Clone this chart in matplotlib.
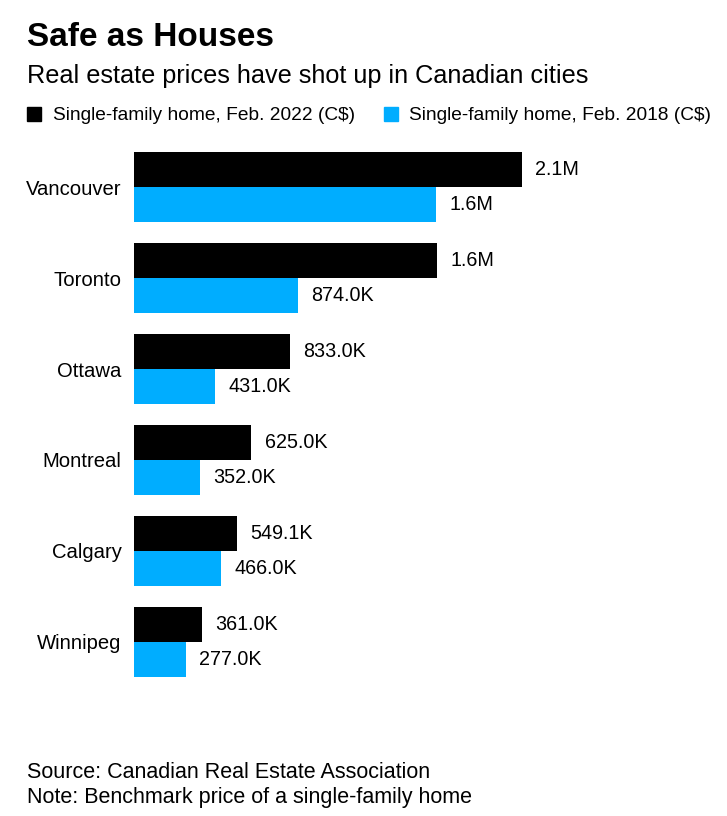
import matplotlib.pyplot as plt
from matplotlib.patches import Rectangle

cities = ['Vancouver', 'Toronto', 'Ottawa', 'Montreal', 'Calgary', 'Winnipeg']
price_2022 = [2068.0, 1615.0, 833.0, 625.0, 549.1, 361.0]  # thousands C$
price_2018 = [1610.0, 874.0, 431.0, 352.0, 466.0, 277.0]
label_2022 = ['2.1M', '1.6M', '833.0K', '625.0K', '549.1K', '361.0K']
label_2018 = ['1.6M', '874.0K', '431.0K', '352.0K', '466.0K', '277.0K']

BLACK = '#000000'
BLUE = '#00adff'
plt.rcParams['font.family'] = ['Liberation Sans', 'DejaVu Sans']

W, H = 727, 816
fig = plt.figure(figsize=(W / 100, H / 100), dpi=100)

h = 0.385
ax = fig.add_axes([134 / W, 1 - 677 / H, (622 - 134) / W, (677 - 152) / H])
ys = range(len(cities))
ax.barh([y - h / 2 for y in ys], price_2022, height=h, color=BLACK, linewidth=0)
ax.barh([y + h / 2 for y in ys], price_2018, height=h, color=BLUE, linewidth=0)
ax.set_xlim(0, 2600)
ax.set_ylim(len(cities) - 1 + h, -h)
for y, v, t in zip(ys, price_2022, label_2022):
    ax.annotate(t, (v, y - h / 2), xytext=(9.5, 0), textcoords='offset points',
                va='center', ha='left', fontsize=14.2, clip_on=False)
for y, v, t in zip(ys, price_2018, label_2018):
    ax.annotate(t, (v, y + h / 2), xytext=(9.5, 0), textcoords='offset points',
                va='center', ha='left', fontsize=14.2, clip_on=False)
ax.set_yticks(list(ys))
ax.set_yticklabels(cities, fontsize=14.6)
ax.tick_params(axis='y', length=0, pad=9)
ax.set_xticks([])
for s in ax.spines.values():
    s.set_visible(False)

fig.text(27 / W, 1 - 38 / H, 'Safe as Houses', fontsize=24, fontweight='bold', va='center')
fig.text(27 / W, 1 - 76 / H, 'Real estate prices have shot up in Canadian cities', fontsize=18.2, va='center')

# legend
fig.patches.append(Rectangle((27 / W, 1 - 121 / H), 14 / W, 14 / H, transform=fig.transFigure, color=BLACK))
fig.text(53 / W, 1 - 115 / H, 'Single-family home, Feb. 2022 (C$)', fontsize=13.8, va='center')
fig.patches.append(Rectangle((384 / W, 1 - 121 / H), 14 / W, 14 / H, transform=fig.transFigure, color=BLUE))
fig.text(409 / W, 1 - 115 / H, 'Single-family home, Feb. 2018 (C$)', fontsize=13.8, va='center')

fig.text(27 / W, 1 - 773 / H, 'Source: Canadian Real Estate Association', fontsize=15.5, va='center')
fig.text(27 / W, 1 - 797 / H, 'Note: Benchmark price of a single-family home', fontsize=15.5, va='center')

fig.savefig('out.png', dpi=100, facecolor='white')
